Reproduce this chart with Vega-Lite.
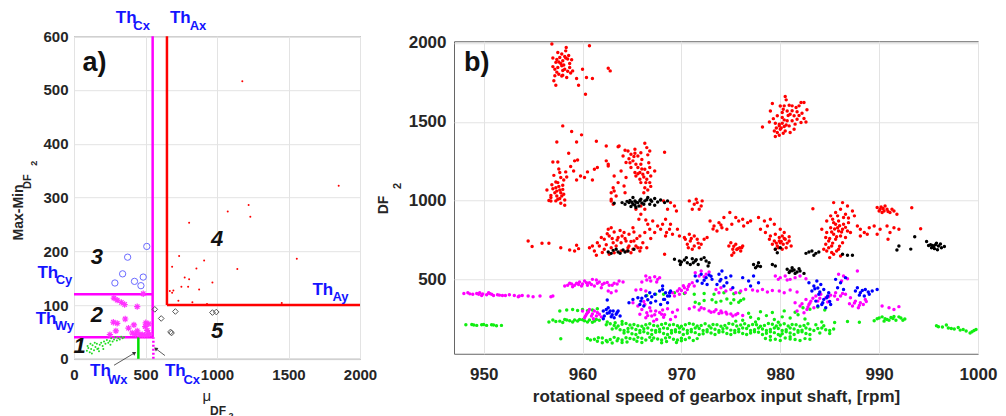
{
"$schema": "https://vega.github.io/schema/vega-lite/v6.json",
"bounds": "flush",
"center": true,
"spacing": 94,
"padding": {"left": 11, "top": 8, "right": 0, "bottom": 0},
"config": {
  "font": "Liberation Sans",
  "view": {"stroke": "#666666", "strokeWidth": 1},
  "axis": {"grid": true, "gridColor": "#e3e3e3", "gridWidth": 1, "domain": false, "ticks": false, "format": "d", "labelFont": "Liberation Sans", "labelFontWeight": "bold", "labelColor": "#262626", "labelFlush": false, "labelOverlap": false, "titleFont": "Liberation Sans", "titleFontWeight": "bold", "titleColor": "#262626"}
},
"datasets": {
  "aG": [{"x":90,"y":15},{"x":100,"y":20},{"x":110,"y":12},{"x":120,"y":18},{"x":130,"y":25},{"x":140,"y":16},{"x":150,"y":22},{"x":160,"y":28},{"x":170,"y":19},{"x":180,"y":26},{"x":190,"y":30},{"x":200,"y":24},{"x":210,"y":32},{"x":220,"y":28},{"x":230,"y":35},{"x":240,"y":30},{"x":250,"y":33},{"x":260,"y":38},{"x":270,"y":32},{"x":280,"y":36},{"x":290,"y":40},{"x":300,"y":34},{"x":310,"y":38},{"x":320,"y":36},{"x":330,"y":41},{"x":340,"y":38},{"x":350,"y":40},{"x":115,"y":28},{"x":145,"y":30},{"x":175,"y":14},{"x":205,"y":18},{"x":255,"y":26},{"x":125,"y":10},{"x":95,"y":24},{"x":163,"y":18}],
  "aM": [{"x":279,"y":113},{"x":302,"y":109},{"x":331,"y":105},{"x":354,"y":101},{"x":442,"y":97},{"x":484,"y":121},{"x":275,"y":68},{"x":302,"y":66},{"x":358,"y":74},{"x":293,"y":52},{"x":419,"y":63},{"x":381,"y":57},{"x":502,"y":67},{"x":523,"y":65},{"x":498,"y":60},{"x":512,"y":53},{"x":407,"y":48},{"x":430,"y":46},{"x":460,"y":45},{"x":477,"y":45},{"x":493,"y":44},{"x":516,"y":45},{"x":251,"y":45},{"x":442,"y":52},{"x":528,"y":46}],
  "aB": [{"x":509,"y":209},{"x":375,"y":189},{"x":340,"y":158},{"x":286,"y":141},{"x":423,"y":144},{"x":484,"y":152},{"x":468,"y":136}],
  "aR": [{"x":1177,"y":516},{"x":1851,"y":322},{"x":1221,"y":286},{"x":1233,"y":264},{"x":1075,"y":274},{"x":805,"y":253},{"x":735,"y":191},{"x":910,"y":183},{"x":1558,"y":186},{"x":686,"y":171},{"x":856,"y":168},{"x":1142,"y":167},{"x":774,"y":151},{"x":805,"y":148},{"x":968,"y":142},{"x":751,"y":134},{"x":798,"y":134},{"x":875,"y":129},{"x":670,"y":126},{"x":695,"y":127},{"x":686,"y":123},{"x":730,"y":108},{"x":828,"y":105},{"x":930,"y":102},{"x":1453,"y":104}],
  "aK": [{"x":565,"y":92},{"x":610,"y":75},{"x":709,"y":88},{"x":968,"y":86},{"x":995,"y":87},{"x":675,"y":50},{"x":682,"y":48}],
  "bR": [{"x":956.9,"y":1993},{"x":958.35,"y":1972},{"x":960.7,"y":1983},{"x":957.7,"y":1908},{"x":958.0,"y":1887},{"x":957.3,"y":1877},{"x":958.5,"y":1898},{"x":958.9,"y":1894},{"x":957.9,"y":1855},{"x":957.5,"y":1845},{"x":957.2,"y":1834},{"x":958.2,"y":1834},{"x":958.7,"y":1845},{"x":959.0,"y":1823},{"x":957.6,"y":1802},{"x":958.0,"y":1796},{"x":958.4,"y":1781},{"x":957.2,"y":1792},{"x":957.1,"y":1760},{"x":957.3,"y":1732},{"x":959.4,"y":1775},{"x":959.6,"y":1732},{"x":960.0,"y":1834},{"x":960.4,"y":1781},{"x":961.0,"y":1775},{"x":960.3,"y":1675},{"x":962.6,"y":1839},{"x":962.8,"y":1823},{"x":957.8,"y":1870},{"x":958.1,"y":1860},{"x":958.6,"y":1920},{"x":957.9,"y":1930},{"x":958.3,"y":1905},{"x":957.4,"y":1815},{"x":958.8,"y":1810},{"x":957.0,"y":1850},
  {"x":957.6,"y":1880},{"x":958.2,"y":1915},{"x":957.4,"y":1895},{"x":958.7,"y":1870},{"x":958.0,"y":1825},{"x":957.9,"y":1790},{"x":958.5,"y":1820},{"x":957.0,"y":1905},{"x":958.3,"y":1950},{"x":957.5,"y":1940},
  {"x":958.0,"y":1474},{"x":957.4,"y":1372},{"x":958.9,"y":1438},{"x":959.9,"y":1417},{"x":959.4,"y":1372},{"x":961.4,"y":1376},{"x":962.4,"y":1346},{"x":963.6,"y":1342},{"x":957.0,"y":1245},{"x":957.5,"y":1245},{"x":958.6,"y":1300},{"x":959.2,"y":1252},{"x":959.5,"y":1258},{"x":958.8,"y":1216},{"x":958.3,"y":1182},{"x":959.1,"y":1188},{"x":959.8,"y":1156},{"x":959.4,"y":1131},{"x":960.5,"y":1182},{"x":960.2,"y":1146},{"x":961.2,"y":1199},{"x":961.0,"y":1131},{"x":961.5,"y":1210},{"x":957.7,"y":1178},{"x":957.8,"y":1146},{"x":957.5,"y":1114},{"x":957.3,"y":1082},{"x":958.0,"y":1097},{"x":957.7,"y":1067},{"x":957.2,"y":1050},{"x":957.9,"y":1029},{"x":957.5,"y":1008},{"x":956.8,"y":997},{"x":958.2,"y":1004},{"x":956.4,"y":1067},{"x":956.8,"y":1033},{"x":957.3,"y":1118},{"x":957.8,"y":1050},{"x":958.0,"y":1071},{"x":957.4,"y":1029},{"x":962.4,"y":1252},{"x":962.6,"y":1220},{"x":956.8,"y":1019},{"x":957.3,"y":998},{"x":957.8,"y":983},{"x":957.7,"y":1013},{"x":958.2,"y":970},
  {"x":957.1,"y":1160},{"x":957.6,"y":1200},{"x":958.1,"y":1130},{"x":956.9,"y":1100},{"x":957.4,"y":1060},{"x":958.1,"y":1040},{"x":956.6,"y":1000},{"x":957.0,"y":1075},{"x":957.6,"y":1090},{"x":958.4,"y":1150},
  {"x":963.7,"y":1346},{"x":964.6,"y":1315},{"x":965.3,"y":1325},{"x":966.3,"y":1364},{"x":966.5,"y":1336},{"x":966.8,"y":1315},{"x":964.1,"y":1283},{"x":964.7,"y":1266},{"x":965.1,"y":1252},{"x":964.4,"y":1241},{"x":965.4,"y":1231},{"x":964.9,"y":1210},{"x":965.6,"y":1210},{"x":965.9,"y":1231},{"x":966.3,"y":1199},{"x":966.6,"y":1178},{"x":966.1,"y":1167},{"x":966.9,"y":1156},{"x":966.5,"y":1135},{"x":966.8,"y":1114},{"x":965.9,"y":1114},{"x":966.3,"y":1082},{"x":966.6,"y":1067},{"x":965.8,"y":1135},{"x":963.9,"y":1188},{"x":963.2,"y":1156},{"x":963.6,"y":1114},{"x":963.1,"y":1082},{"x":964.2,"y":1093},{"x":962.9,"y":1050},{"x":963.4,"y":1029},{"x":964.3,"y":1050},{"x":962.6,"y":1231},{"x":964.4,"y":1146},{"x":965.3,"y":1178},{"x":967.3,"y":1188},{"x":968.3,"y":1306},{"x":962.9,"y":997},{"x":963.2,"y":1061},{"x":965.6,"y":1283},{"x":965.9,"y":1304},{"x":964.9,"y":1294},{"x":965.4,"y":1156},{"x":965.8,"y":1178},{"x":966.4,"y":1114},{"x":966.8,"y":1210},{"x":962.9,"y":1008},{"x":963.1,"y":977},
  {"x":964.8,"y":1240},{"x":965.2,"y":1280},{"x":966.0,"y":1260},{"x":966.7,"y":1240},{"x":966.2,"y":1150},{"x":966.0,"y":1200},{"x":965.6,"y":1170},{"x":966.9,"y":1090},{"x":966.2,"y":1050},{"x":965.3,"y":1300},{"x":964.3,"y":1320},{"x":966.6,"y":1290},
  {"x":980.5,"y":1660},{"x":980.6,"y":1639},{"x":979.2,"y":1616},{"x":980.4,"y":1601},{"x":980.9,"y":1605},{"x":981.2,"y":1601},{"x":981.9,"y":1601},{"x":982.1,"y":1622},{"x":982.4,"y":1622},{"x":979.0,"y":1569},{"x":979.7,"y":1538},{"x":980.2,"y":1559},{"x":980.7,"y":1569},{"x":981.0,"y":1548},{"x":981.4,"y":1538},{"x":981.7,"y":1563},{"x":982.2,"y":1554},{"x":982.7,"y":1576},{"x":982.4,"y":1521},{"x":982.1,"y":1495},{"x":981.5,"y":1485},{"x":980.7,"y":1506},{"x":980.2,"y":1491},{"x":979.5,"y":1491},{"x":978.9,"y":1499},{"x":978.2,"y":1467},{"x":979.9,"y":1474},{"x":980.4,"y":1470},{"x":980.0,"y":1453},{"x":980.5,"y":1442},{"x":979.7,"y":1432},{"x":979.5,"y":1406},{"x":981.0,"y":1432},{"x":981.4,"y":1453},{"x":980.9,"y":1474},{"x":980.3,"y":1427},{"x":979.9,"y":1415},{"x":979.4,"y":1442},{"x":981.2,"y":1506},{"x":981.7,"y":1516},{"x":982.6,"y":1499},{"x":980.2,"y":1527},{"x":980.4,"y":1512},{"x":979.9,"y":1484},
  {"x":980.3,"y":1580},{"x":980.8,"y":1540},{"x":981.2,"y":1570},{"x":980.6,"y":1480},{"x":980.1,"y":1460},{"x":979.6,"y":1460},{"x":981.6,"y":1590},{"x":980.0,"y":1600},{"x":979.3,"y":1520},{"x":981.9,"y":1540},
  {"x":954.5,"y":744},{"x":954.9,"y":708},{"x":955.9,"y":729},{"x":956.6,"y":729},{"x":957.8,"y":701},{"x":958.7,"y":686},{"x":959.4,"y":716},{"x":959.6,"y":695},{"x":959.2,"y":680},{"x":960.7,"y":701},{"x":961.2,"y":680},{"x":961.4,"y":653},{"x":961.7,"y":712},{"x":962.2,"y":754},{"x":962.6,"y":818},{"x":962.9,"y":828},{"x":962.7,"y":775},{"x":963.2,"y":801},{"x":963.6,"y":765},{"x":963.9,"y":733},{"x":963.4,"y":712},{"x":964.2,"y":797},{"x":964.4,"y":744},{"x":964.7,"y":712},{"x":965.1,"y":691},{"x":965.4,"y":712},{"x":965.8,"y":680},{"x":966.1,"y":733},{"x":965.8,"y":775},{"x":965.1,"y":828},{"x":964.7,"y":786},{"x":963.9,"y":680},{"x":962.2,"y":691},{"x":961.9,"y":765},{"x":963.1,"y":733},{"x":965.9,"y":701},{"x":966.3,"y":797},{"x":966.6,"y":850},{"x":965.7,"y":881},{"x":965.9,"y":913},{"x":966.3,"y":945},{"x":965.4,"y":945},{"x":965.9,"y":966},{"x":966.4,"y":877},{"x":966.8,"y":818},{"x":967.3,"y":797},{"x":967.6,"y":839},{"x":967.1,"y":871},{"x":967.9,"y":818},{"x":968.5,"y":797},{"x":968.3,"y":659},{"x":964.6,"y":701},{"x":964.9,"y":669},{"x":963.2,"y":669},{"x":962.7,"y":659},{"x":961.5,"y":733},{"x":961.0,"y":712},{"x":965.2,"y":744},{"x":964.0,"y":775},
  {"x":962.4,"y":720},{"x":962.9,"y":700},{"x":963.5,"y":750},{"x":964.3,"y":760},{"x":964.9,"y":740},{"x":965.5,"y":760},{"x":964.5,"y":680},{"x":965.6,"y":700},{"x":963.8,"y":810},{"x":962.5,"y":790},{"x":966.5,"y":700},{"x":965.2,"y":800},{"x":966.9,"y":760},{"x":963.0,"y":760},{"x":962.0,"y":670},
  {"x":968.2,"y":998},{"x":968.9,"y":987},{"x":969.3,"y":966},{"x":968.6,"y":945},{"x":969.5,"y":934},{"x":968.4,"y":881},{"x":968.1,"y":850},{"x":968.8,"y":818},{"x":969.6,"y":818},{"x":968.9,"y":850},{"x":969.8,"y":775},{"x":969.1,"y":786},{"x":968.4,"y":775},{"x":970.8,"y":998},{"x":971.3,"y":977},{"x":971.6,"y":987},{"x":972.0,"y":966},{"x":971.1,"y":945},{"x":971.8,"y":945},{"x":971.5,"y":1008},{"x":972.1,"y":998},
  {"x":970.3,"y":765},{"x":970.8,"y":786},{"x":971.3,"y":775},{"x":970.9,"y":744},{"x":971.6,"y":754},{"x":970.6,"y":723},{"x":971.3,"y":712},{"x":972.0,"y":723},{"x":972.3,"y":754},{"x":970.4,"y":754},{"x":971.1,"y":691},{"x":971.8,"y":701},{"x":972.6,"y":765},{"x":972.9,"y":871},{"x":973.3,"y":839},{"x":973.8,"y":860},{"x":974.1,"y":828},{"x":973.6,"y":807},{"x":974.6,"y":818},{"x":974.9,"y":924},{"x":975.5,"y":892},{"x":975.8,"y":871},{"x":976.2,"y":881},{"x":976.7,"y":860},{"x":977.0,"y":871},{"x":975.1,"y":850},{"x":976.3,"y":839},{"x":974.3,"y":892},{"x":974.8,"y":712},{"x":975.2,"y":691},{"x":975.5,"y":723},{"x":975.9,"y":701},{"x":976.0,"y":680},{"x":975.3,"y":669},{"x":975.7,"y":695},{"x":975.0,"y":733},{"x":976.2,"y":712},{"x":975.1,"y":653},
  {"x":971.0,"y":760},{"x":971.7,"y":730},{"x":970.7,"y":700},{"x":975.6,"y":690},{"x":975.3,"y":710},{"x":976.1,"y":700},{"x":973.2,"y":820},{"x":974.0,"y":845},
  {"x":977.8,"y":892},{"x":978.4,"y":871},{"x":978.7,"y":839},{"x":978.0,"y":818},{"x":979.0,"y":881},{"x":978.5,"y":797},{"x":979.4,"y":850},{"x":979.0,"y":775},{"x":979.5,"y":786},{"x":979.9,"y":765},{"x":980.2,"y":775},{"x":980.5,"y":754},{"x":980.9,"y":744},{"x":979.4,"y":744},{"x":980.0,"y":733},{"x":979.7,"y":712},{"x":980.3,"y":723},{"x":980.6,"y":701},{"x":980.2,"y":691},{"x":979.5,"y":691},{"x":979.2,"y":723},{"x":981.1,"y":712},{"x":979.9,"y":744},{"x":980.4,"y":797},{"x":980.0,"y":818},{"x":978.9,"y":754},
  {"x":980.1,"y":740},{"x":980.7,"y":730},{"x":979.8,"y":700},{"x":980.4,"y":760},{"x":979.6,"y":730},{"x":980.9,"y":770},
  {"x":985.4,"y":987},{"x":986.3,"y":987},{"x":986.8,"y":966},{"x":986.1,"y":945},{"x":985.6,"y":924},{"x":986.6,"y":913},{"x":987.3,"y":934},{"x":985.1,"y":903},{"x":984.7,"y":871},{"x":985.4,"y":860},{"x":985.9,"y":871},{"x":986.4,"y":850},{"x":986.9,"y":860},{"x":985.1,"y":828},{"x":985.8,"y":828},{"x":986.3,"y":818},{"x":986.8,"y":807},{"x":984.7,"y":797},{"x":985.4,"y":786},{"x":986.1,"y":775},{"x":985.6,"y":754},{"x":984.9,"y":744},{"x":986.3,"y":733},{"x":985.2,"y":712},{"x":985.9,"y":691},{"x":984.7,"y":680},{"x":985.4,"y":659},{"x":986.1,"y":648},{"x":985.0,"y":638},{"x":984.4,"y":691},{"x":984.6,"y":765},{"x":986.6,"y":765},{"x":987.1,"y":797},{"x":987.5,"y":903},{"x":987.8,"y":839},{"x":988.1,"y":818},{"x":988.5,"y":797},{"x":988.8,"y":786},{"x":988.1,"y":775},{"x":985.8,"y":903},{"x":985.3,"y":881},{"x":985.9,"y":807},{"x":986.4,"y":892},{"x":984.2,"y":818},{"x":984.6,"y":723},{"x":983.3,"y":948},
  {"x":985.5,"y":820},{"x":985.2,"y":800},{"x":986.0,"y":840},{"x":985.7,"y":770},{"x":985.0,"y":760},{"x":986.2,"y":800},{"x":985.6,"y":850},{"x":986.6,"y":830},{"x":985.3,"y":730},{"x":986.0,"y":710},{"x":985.7,"y":680},{"x":985.2,"y":670},{"x":984.9,"y":700},{"x":986.9,"y":890},
  {"x":989.8,"y":956},{"x":990.1,"y":945},{"x":990.5,"y":934},{"x":990.8,"y":945},{"x":991.1,"y":924},{"x":991.5,"y":934},{"x":991.8,"y":913},{"x":990.3,"y":924},{"x":990.0,"y":934},{"x":990.6,"y":966},{"x":989.5,"y":839},{"x":990.1,"y":818},{"x":990.8,"y":839},{"x":991.1,"y":797},{"x":991.5,"y":828},{"x":992.0,"y":818},{"x":990.9,"y":754},{"x":989.8,"y":786},{"x":989.0,"y":828},{"x":993.3,"y":955},{"x":994.2,"y":821},
  {"x":990.4,"y":950},{"x":990.9,"y":930},{"x":991.3,"y":945},{"x":990.2,"y":960}],
  "bK": [{"x":964.7,"y":987},{"x":965.1,"y":977},{"x":965.3,"y":998},{"x":964.9,"y":962},{"x":965.6,"y":987},{"x":965.9,"y":1008},{"x":966.3,"y":998},{"x":966.6,"y":1019},{"x":966.9,"y":1004},{"x":967.3,"y":1013},{"x":967.6,"y":991},{"x":967.9,"y":1004},{"x":968.3,"y":987},{"x":968.6,"y":998},{"x":965.7,"y":966},{"x":965.4,"y":956},{"x":964.3,"y":977},{"x":966.8,"y":977},{"x":964.0,"y":987},{"x":963.2,"y":983},{"x":966.2,"y":977},{"x":965.1,"y":1019},{"x":967.3,"y":970},{"x":965.0,"y":990},{"x":965.3,"y":970},{"x":964.8,"y":1000},
  {"x":965.4,"y":990},{"x":966.0,"y":985},{"x":966.5,"y":1005},{"x":967.0,"y":995},{"x":964.5,"y":995},{"x":965.8,"y":1000},
  {"x":962.6,"y":674},{"x":963.1,"y":684},{"x":963.6,"y":674},{"x":964.1,"y":686},{"x":964.6,"y":680},{"x":965.2,"y":691},{"x":962.9,"y":665},{"x":963.8,"y":665},{"x":964.3,"y":674},{"x":963.4,"y":691},
  {"x":969.3,"y":627},{"x":969.8,"y":617},{"x":970.3,"y":623},{"x":970.6,"y":606},{"x":971.1,"y":631},{"x":971.4,"y":617},{"x":972.0,"y":627},{"x":972.5,"y":617},{"x":972.8,"y":606},{"x":969.9,"y":595},{"x":970.9,"y":595},{"x":971.7,"y":595},{"x":972.3,"y":638},{"x":970.5,"y":638},{"x":971.2,"y":606},{"x":972.7,"y":585},{"x":971.5,"y":625},{"x":970.0,"y":610},
  {"x":977.3,"y":595},{"x":977.7,"y":585},{"x":977.8,"y":606},{"x":977.5,"y":574},{"x":978.0,"y":581},{"x":979.2,"y":595},{"x":979.5,"y":585},
  {"x":980.7,"y":564},{"x":981.0,"y":553},{"x":981.4,"y":560},{"x":981.7,"y":547},{"x":982.0,"y":553},{"x":982.4,"y":538},{"x":981.2,"y":574},{"x":981.9,"y":568},{"x":981.5,"y":538},{"x":980.9,"y":543},{"x":981.2,"y":555},
  {"x":979.5,"y":691},{"x":980.0,"y":701},{"x":979.7,"y":669},
  {"x":982.6,"y":665},{"x":982.9,"y":674},{"x":983.2,"y":680},{"x":983.6,"y":665},{"x":983.9,"y":674},{"x":983.4,"y":653},
  {"x":986.3,"y":659},{"x":986.8,"y":653},{"x":987.3,"y":653},
  {"x":995.2,"y":720},{"x":995.5,"y":705},{"x":995.8,"y":730},{"x":996.0,"y":712},{"x":995.6,"y":695},{"x":996.3,"y":700},{"x":994.8,"y":740},{"x":993.6,"y":770},{"x":993.2,"y":692},{"x":996.6,"y":708},{"x":995.0,"y":715},{"x":995.9,"y":688},{"x":996.2,"y":725},{"x":992.0,"y":712},{"x":991.8,"y":686},{"x":995.4,"y":715},{"x":995.7,"y":720},{"x":995.3,"y":700}],
  "bM": [{"x":948.0,"y":411},{"x":948.4,"y":415},{"x":948.9,"y":405},{"x":949.3,"y":411},{"x":949.6,"y":415},{"x":949.9,"y":407},{"x":950.3,"y":403},{"x":950.6,"y":411},{"x":951.0,"y":398},{"x":951.4,"y":403},{"x":951.9,"y":398},{"x":952.6,"y":403},{"x":953.1,"y":398},{"x":953.5,"y":390},{"x":953.9,"y":398},{"x":954.5,"y":394},{"x":955.0,"y":390},{"x":955.7,"y":394},{"x":956.8,"y":390},{"x":957.0,"y":394},{"x":949.8,"y":398},{"x":950.5,"y":415},
  {"x":948.6,"y":408},{"x":949.5,"y":405},{"x":950.8,"y":405},{"x":951.6,"y":400},{"x":952.2,"y":398},{"x":953.6,"y":395},
  {"x":958.2,"y":458},{"x":958.7,"y":475},{"x":959.2,"y":462},{"x":959.7,"y":483},{"x":960.2,"y":489},{"x":960.7,"y":479},{"x":961.0,"y":500},{"x":961.4,"y":496},{"x":961.7,"y":483},{"x":962.2,"y":475},{"x":962.7,"y":462},{"x":963.2,"y":475},{"x":963.7,"y":489},{"x":964.1,"y":483},{"x":959.0,"y":453},{"x":959.9,"y":458},{"x":960.5,"y":462},{"x":961.2,"y":458},{"x":961.9,"y":447},{"x":962.6,"y":426},{"x":962.9,"y":415},{"x":963.4,"y":426},{"x":958.5,"y":462},{"x":959.4,"y":475},{"x":960.9,"y":468},
  {"x":958.9,"y":470},{"x":959.6,"y":468},{"x":960.4,"y":478},{"x":961.5,"y":475},{"x":962.0,"y":468},{"x":962.5,"y":480},{"x":963.0,"y":462},{"x":963.5,"y":470},{"x":960.0,"y":470},
  {"x":966.4,"y":521},{"x":966.8,"y":511},{"x":967.3,"y":517},{"x":967.6,"y":500},{"x":966.9,"y":489},{"x":966.5,"y":496},{"x":966.0,"y":483},{"x":967.5,"y":483},{"x":967.8,"y":511},{"x":965.4,"y":432},{"x":965.9,"y":436},{"x":966.4,"y":426},
  {"x":960.0,"y":299},{"x":960.5,"y":288},{"x":960.9,"y":267},{"x":961.2,"y":299},{"x":960.2,"y":256},{"x":960.7,"y":309},{"x":961.4,"y":267},{"x":961.7,"y":278},{"x":960.4,"y":278},{"x":961.1,"y":250},
  {"x":960.6,"y":295},{"x":961.0,"y":280},{"x":960.3,"y":268},{"x":961.5,"y":290},{"x":961.9,"y":262},
  {"x":971.4,"y":542},{"x":972.0,"y":553},{"x":972.5,"y":532},{"x":972.8,"y":547},{"x":971.8,"y":521},{"x":972.3,"y":517},
  {"x":969.1,"y":415},{"x":969.6,"y":426},{"x":970.3,"y":447},{"x":970.8,"y":468},{"x":971.1,"y":479},{"x":969.8,"y":405},{"x":969.3,"y":394},{"x":970.6,"y":436},{"x":971.3,"y":458},{"x":970.4,"y":415},
  {"x":970.0,"y":430},{"x":970.7,"y":455},{"x":969.8,"y":440},{"x":970.2,"y":460},
  {"x":973.5,"y":436},{"x":974.0,"y":447},{"x":974.5,"y":426},{"x":975.0,"y":436},{"x":975.5,"y":415},{"x":976.0,"y":426},{"x":976.5,"y":436},{"x":973.8,"y":415},
  {"x":977.2,"y":432},{"x":977.7,"y":426},{"x":978.2,"y":436},{"x":978.7,"y":420},{"x":979.2,"y":430},{"x":979.9,"y":426},{"x":980.4,"y":415},{"x":981.0,"y":432},{"x":981.7,"y":420},
  {"x":979.5,"y":521},{"x":980.0,"y":511},{"x":980.5,"y":521},{"x":981.0,"y":500},{"x":981.5,"y":511},{"x":982.0,"y":521},{"x":982.6,"y":504},{"x":979.8,"y":500},{"x":980.7,"y":496},
  {"x":968.1,"y":305},{"x":968.6,"y":313},{"x":969.1,"y":292},{"x":969.6,"y":305},{"x":968.3,"y":276},{"x":968.9,"y":246},{"x":969.4,"y":263},
  {"x":970.8,"y":313},{"x":971.3,"y":324},{"x":971.8,"y":305},{"x":972.3,"y":313},{"x":973.0,"y":292},{"x":973.5,"y":307},{"x":974.0,"y":299},{"x":973.8,"y":284},
  {"x":972.8,"y":300},{"x":973.3,"y":295},{"x":974.5,"y":292},{"x":975.0,"y":280},{"x":975.5,"y":275},{"x":972.0,"y":320},
  {"x":974.1,"y":288},{"x":974.6,"y":280},{"x":975.2,"y":267},{"x":975.7,"y":284},{"x":976.2,"y":271},
  {"x":981.5,"y":352},{"x":982.0,"y":331},{"x":982.6,"y":373},{"x":982.9,"y":341},{"x":983.4,"y":320},{"x":981.7,"y":299},{"x":982.4,"y":288},{"x":983.1,"y":362},{"x":982.7,"y":309},
  {"x":983.0,"y":350},{"x":982.2,"y":345},{"x":983.3,"y":380},{"x":984.0,"y":380},{"x":984.9,"y":390},{"x":985.5,"y":395},{"x":986.3,"y":410},{"x":982.8,"y":325},
  {"x":983.6,"y":394},{"x":984.1,"y":405},{"x":984.6,"y":383},{"x":985.1,"y":400},{"x":985.6,"y":415},{"x":986.1,"y":394},{"x":986.6,"y":405},{"x":983.8,"y":362},{"x":984.8,"y":356},{"x":985.8,"y":373},
  {"x":985.9,"y":532},{"x":986.4,"y":521},{"x":986.2,"y":489},{"x":986.8,"y":504},
  {"x":987.1,"y":383},{"x":987.6,"y":362},{"x":988.1,"y":352},{"x":988.6,"y":373},{"x":987.3,"y":331},{"x":987.9,"y":320},{"x":988.4,"y":341},{"x":987.8,"y":553},
  {"x":987.5,"y":350},{"x":988.0,"y":335},{"x":988.7,"y":360},{"x":987.0,"y":345},
  {"x":990.3,"y":331},{"x":991.0,"y":320},{"x":991.5,"y":309},{"x":992.0,"y":327},
  {"x":965.1,"y":352},{"x":965.6,"y":331},{"x":966.0,"y":309},{"x":966.5,"y":288},{"x":967.0,"y":267},{"x":967.5,"y":246},{"x":966.2,"y":360},{"x":966.8,"y":320},{"x":967.4,"y":299},{"x":968.0,"y":278},{"x":965.8,"y":278},{"x":966.4,"y":256},{"x":967.2,"y":235},
  {"x":966.3,"y":340},{"x":966.9,"y":300},{"x":967.3,"y":275},{"x":966.6,"y":270},{"x":967.8,"y":290},{"x":968.2,"y":260}],
  "bB": [{"x":962.1,"y":299},{"x":962.4,"y":309},{"x":962.7,"y":288},{"x":963.1,"y":299},{"x":963.4,"y":278},{"x":962.2,"y":267},{"x":962.9,"y":263},{"x":963.6,"y":299},{"x":962.6,"y":320},{"x":963.2,"y":256},{"x":962.1,"y":250},{"x":963.8,"y":267},{"x":962.5,"y":369},
  {"x":962.5,"y":285},{"x":963.0,"y":275},{"x":963.5,"y":290},{"x":962.8,"y":300},
  {"x":964.7,"y":352},{"x":965.1,"y":373},{"x":965.6,"y":383},{"x":965.9,"y":362},{"x":966.4,"y":394},{"x":966.8,"y":415},{"x":967.3,"y":405},{"x":967.8,"y":426},{"x":968.1,"y":458},{"x":968.6,"y":394},{"x":967.4,"y":362},{"x":966.2,"y":331},{"x":965.8,"y":341},{"x":966.9,"y":352},{"x":968.3,"y":373},{"x":968.8,"y":415},{"x":967.9,"y":341},
  {"x":966.0,"y":380},{"x":967.0,"y":390},{"x":966.6,"y":370},
  {"x":971.4,"y":521},{"x":972.0,"y":532},{"x":972.5,"y":511},{"x":971.6,"y":489},{"x":972.1,"y":475},{"x":972.8,"y":528},{"x":973.1,"y":500},{"x":972.6,"y":468},
  {"x":973.8,"y":532},{"x":974.1,"y":553},{"x":974.5,"y":511},{"x":973.9,"y":489},{"x":974.6,"y":479},{"x":975.0,"y":521},{"x":974.3,"y":458},{"x":975.2,"y":447},{"x":973.6,"y":468},
  {"x":973.0,"y":520},{"x":974.0,"y":500},{"x":972.3,"y":495},
  {"x":968.1,"y":436},{"x":968.4,"y":415},{"x":968.8,"y":394},{"x":968.2,"y":373},{"x":968.9,"y":426},{"x":968.6,"y":352},
  {"x":976.2,"y":511},{"x":976.8,"y":489},{"x":977.3,"y":521},{"x":977.8,"y":479},{"x":977.0,"y":458},
  {"x":982.9,"y":479},{"x":983.4,"y":458},{"x":983.7,"y":489},{"x":984.1,"y":468},{"x":984.4,"y":436},{"x":983.2,"y":426},{"x":983.9,"y":405},{"x":984.7,"y":383},{"x":984.3,"y":352},{"x":983.8,"y":331},{"x":984.6,"y":320},{"x":985.1,"y":341},{"x":984.9,"y":415},{"x":983.6,"y":362},{"x":984.4,"y":373},
  {"x":983.5,"y":440},{"x":984.0,"y":420},{"x":984.8,"y":395},{"x":984.2,"y":340},{"x":985.0,"y":360},{"x":983.8,"y":445},
  {"x":985.6,"y":500},{"x":986.1,"y":479},{"x":986.6,"y":511},{"x":985.8,"y":447},{"x":986.4,"y":436},
  {"x":987.6,"y":426},{"x":988.1,"y":415},{"x":988.6,"y":436},{"x":989.0,"y":405},{"x":988.5,"y":394},{"x":989.3,"y":426},{"x":987.8,"y":447},{"x":989.8,"y":436},
  {"x":988.3,"y":430},{"x":988.9,"y":420},{"x":988.0,"y":400}],
  "bG": [{"x":948.2,"y":212},{"x":948.8,"y":214},{"x":949.3,"y":208},{"x":949.8,"y":212},{"x":950.3,"y":208},{"x":950.8,"y":212},{"x":951.3,"y":206},{"x":951.8,"y":208},{"x":949.0,"y":210},{"x":950.0,"y":214},{"x":951.0,"y":210},
  {"x":956.6,"y":229},{"x":957.0,"y":242},{"x":957.7,"y":235},{"x":958.2,"y":246},{"x":958.7,"y":238},{"x":959.2,"y":242},{"x":959.7,"y":246},{"x":960.2,"y":238},{"x":960.7,"y":242},{"x":961.2,"y":235},{"x":961.7,"y":240},{"x":959.0,"y":229},{"x":960.5,"y":229},
  {"x":957.3,"y":232},{"x":958.0,"y":226},{"x":958.4,"y":242},{"x":959.5,"y":236},{"x":960.0,"y":244},{"x":961.0,"y":228},{"x":961.4,"y":246},
  {"x":957.7,"y":299},{"x":958.4,"y":305},{"x":959.0,"y":309},{"x":959.5,"y":303},{"x":960.0,"y":309},{"x":960.5,"y":301},{"x":961.0,"y":305},{"x":961.5,"y":314},{"x":957.8,"y":123},
  {"x":962.4,"y":212},{"x":963.2,"y":208},{"x":964.0,"y":215},{"x":964.8,"y":210},{"x":965.6,"y":206},{"x":966.4,"y":212},{"x":967.2,"y":208},{"x":968.0,"y":214},{"x":968.8,"y":210},{"x":969.6,"y":206},{"x":970.4,"y":212},{"x":971.2,"y":215},{"x":972.0,"y":208},{"x":972.8,"y":204},{"x":973.6,"y":212},{"x":974.4,"y":208},{"x":975.2,"y":215},{"x":976.0,"y":210},{"x":976.8,"y":206},{"x":977.6,"y":212},{"x":978.4,"y":208},{"x":979.2,"y":215},{"x":980.0,"y":210},{"x":980.8,"y":204},{"x":981.6,"y":212},{"x":982.4,"y":208},
  {"x":962.8,"y":218},{"x":963.6,"y":204},{"x":964.4,"y":220},{"x":965.2,"y":214},{"x":966.0,"y":202},{"x":966.8,"y":218},{"x":967.6,"y":204},{"x":968.4,"y":220},{"x":969.2,"y":214},{"x":970.0,"y":202},{"x":970.8,"y":220},{"x":971.6,"y":204},{"x":972.4,"y":218},{"x":973.2,"y":214},{"x":974.0,"y":202},{"x":974.8,"y":220},{"x":975.6,"y":204},{"x":976.4,"y":218},{"x":977.2,"y":214},{"x":978.0,"y":202},{"x":978.8,"y":220},{"x":979.6,"y":204},{"x":980.4,"y":218},{"x":981.2,"y":214},{"x":982.0,"y":202},{"x":982.8,"y":218},{"x":983.6,"y":212},{"x":984.4,"y":206},
  {"x":963.0,"y":185},{"x":963.8,"y":180},{"x":964.6,"y":188},{"x":965.4,"y":182},{"x":966.2,"y":186},{"x":967.0,"y":178},{"x":967.8,"y":184},{"x":968.6,"y":188},{"x":969.4,"y":180},{"x":970.2,"y":185},{"x":971.0,"y":182},{"x":971.8,"y":188},{"x":972.6,"y":180},{"x":973.4,"y":184},{"x":974.2,"y":186},{"x":975.0,"y":178},{"x":975.8,"y":184},{"x":976.6,"y":188},{"x":977.4,"y":180},{"x":978.2,"y":185},{"x":979.0,"y":182},{"x":979.8,"y":188},{"x":980.6,"y":180},{"x":981.4,"y":185},{"x":982.2,"y":178},{"x":983.0,"y":184},{"x":983.8,"y":188},{"x":984.6,"y":180},{"x":985.4,"y":185},
  {"x":963.4,"y":192},{"x":964.2,"y":176},{"x":965.0,"y":192},{"x":965.8,"y":176},{"x":966.6,"y":192},{"x":967.4,"y":176},{"x":968.2,"y":192},{"x":969.0,"y":176},{"x":969.8,"y":192},{"x":970.6,"y":176},{"x":971.4,"y":192},{"x":972.2,"y":176},{"x":973.0,"y":192},{"x":973.8,"y":176},{"x":974.6,"y":192},{"x":975.4,"y":176},{"x":976.2,"y":192},{"x":977.0,"y":176},{"x":977.8,"y":192},{"x":978.6,"y":176},{"x":979.4,"y":192},{"x":980.2,"y":176},{"x":981.0,"y":192},{"x":981.8,"y":176},{"x":982.6,"y":192},{"x":983.4,"y":176},{"x":984.2,"y":192},{"x":985.0,"y":176},
  {"x":964.2,"y":160},{"x":965.0,"y":155},{"x":965.8,"y":162},{"x":966.6,"y":158},{"x":967.4,"y":164},{"x":968.2,"y":156},{"x":969.0,"y":160},{"x":969.8,"y":165},{"x":970.6,"y":158},{"x":971.4,"y":162},{"x":972.2,"y":155},{"x":973.0,"y":160},{"x":973.8,"y":164},{"x":974.6,"y":157},{"x":975.4,"y":162},{"x":976.2,"y":156},{"x":977.0,"y":160},{"x":977.8,"y":165},{"x":978.6,"y":158},{"x":979.4,"y":162},{"x":980.2,"y":155},{"x":981.0,"y":160},{"x":981.8,"y":164},{"x":982.6,"y":157},{"x":984.0,"y":160},{"x":985.0,"y":156},
  {"x":964.6,"y":168},{"x":965.4,"y":150},{"x":966.2,"y":168},{"x":967.0,"y":150},{"x":967.8,"y":168},{"x":968.6,"y":150},{"x":969.4,"y":168},{"x":970.2,"y":150},{"x":971.0,"y":168},{"x":971.8,"y":150},{"x":972.6,"y":168},{"x":973.4,"y":150},{"x":974.2,"y":168},{"x":975.0,"y":150},{"x":975.8,"y":168},{"x":976.6,"y":150},{"x":977.4,"y":168},{"x":978.2,"y":150},{"x":979.0,"y":168},{"x":979.8,"y":150},{"x":980.6,"y":168},{"x":981.4,"y":150},{"x":982.2,"y":168},{"x":983.0,"y":150},
  {"x":960.5,"y":125},{"x":961.2,"y":120},{"x":962.0,"y":128},{"x":962.8,"y":118},{"x":963.6,"y":124},{"x":964.4,"y":130},{"x":965.2,"y":120},{"x":966.0,"y":126},{"x":966.8,"y":132},{"x":967.6,"y":122},{"x":968.4,"y":128},{"x":969.2,"y":120},{"x":970.0,"y":126},{"x":970.8,"y":130},{"x":971.6,"y":124},{"x":961.5,"y":108},{"x":962.5,"y":104},{"x":963.5,"y":110},{"x":964.5,"y":102},{"x":965.5,"y":108},{"x":967.0,"y":112},{"x":968.5,"y":106},{"x":970.0,"y":110},{"x":978.5,"y":125},{"x":979.5,"y":120},{"x":980.5,"y":128},{"x":981.5,"y":118},{"x":982.5,"y":124},{"x":979.0,"y":138},{"x":980.0,"y":142},{"x":981.0,"y":136},
  {"x":960.8,"y":115},{"x":961.6,"y":130},{"x":962.4,"y":112},{"x":963.2,"y":132},{"x":964.0,"y":115},{"x":964.8,"y":125},{"x":965.6,"y":132},{"x":966.4,"y":115},{"x":967.2,"y":128},{"x":968.0,"y":115},{"x":968.8,"y":132},{"x":969.6,"y":115},{"x":970.4,"y":118},{"x":971.2,"y":112},{"x":962.0,"y":98},{"x":963.0,"y":96},{"x":964.0,"y":100},{"x":966.0,"y":100},{"x":968.0,"y":98},{"x":969.5,"y":100},{"x":979.0,"y":115},{"x":980.0,"y":112},{"x":981.0,"y":122},{"x":982.0,"y":112},{"x":983.0,"y":120},
  {"x":976.2,"y":240},{"x":977.0,"y":260},{"x":977.8,"y":250},{"x":978.6,"y":270},{"x":979.4,"y":245},{"x":980.2,"y":262},{"x":981.0,"y":255},{"x":981.8,"y":275},{"x":982.5,"y":248},{"x":976.8,"y":285},{"x":978.0,"y":295},{"x":979.2,"y":290},{"x":980.4,"y":300},{"x":981.5,"y":292},{"x":975.5,"y":235},{"x":977.5,"y":230},{"x":979.8,"y":228},
  {"x":982.3,"y":320},{"x":983.0,"y":310},{"x":983.8,"y":325},{"x":984.5,"y":305},
  {"x":968.2,"y":405},{"x":969.3,"y":415},{"x":970.3,"y":411},{"x":971.3,"y":405},{"x":972.3,"y":411},{"x":973.3,"y":405},{"x":974.3,"y":415},{"x":975.3,"y":409},{"x":975.9,"y":415},{"x":966.5,"y":398},{"x":967.4,"y":405},
  {"x":971.4,"y":355},{"x":972.3,"y":366},{"x":973.1,"y":370},{"x":974.0,"y":362},{"x":974.6,"y":376},{"x":975.3,"y":370},{"x":976.0,"y":366},{"x":976.3,"y":376},{"x":971.8,"y":345},{"x":973.5,"y":355},{"x":975.0,"y":349},{"x":975.8,"y":355},
  {"x":989.8,"y":250},{"x":990.3,"y":262},{"x":990.8,"y":245},{"x":991.2,"y":258},{"x":991.7,"y":240},{"x":992.2,"y":255},{"x":992.6,"y":248},{"x":990.5,"y":235},{"x":991.5,"y":265},{"x":989.5,"y":238},
  {"x":990.0,"y":255},{"x":990.6,"y":250},{"x":991.0,"y":240},{"x":991.4,"y":252},{"x":992.0,"y":262},{"x":992.4,"y":240},
  {"x":995.8,"y":205},{"x":996.4,"y":198},{"x":997.0,"y":192},{"x":997.6,"y":185},{"x":998.2,"y":178},{"x":998.8,"y":172},{"x":999.4,"y":168},{"x":996.8,"y":210},{"x":998.0,"y":195},{"x":999.2,"y":160},{"x":999.8,"y":182},
  {"x":996.0,"y":200},{"x":997.3,"y":188},{"x":998.5,"y":182},{"x":999.6,"y":175},
  {"x":962.5,"y":230},{"x":963.3,"y":225},{"x":964.0,"y":232},{"x":984.2,"y":230},{"x":985.5,"y":226},{"x":986.8,"y":232},{"x":988.0,"y":228}]
},
"hconcat": [
{
  "width": 286, "height": 322.6,
  "encoding": {
    "x": {"field": "x", "type": "quantitative", "scale": {"domain": [0, 2000], "nice": false, "zero": false}, "axis": {"values": [0, 500, 1000, 1500, 2000], "format": "d", "title": null, "labelFontSize": 15, "labelPadding": 9}},
    "y": {"field": "y", "type": "quantitative", "scale": {"domain": [0, 600], "nice": false, "zero": false}, "axis": {"values": [0, 100, 200, 300, 400, 500, 600], "format": "d", "title": null, "labelFontSize": 15, "labelPadding": 6}}
  },
  "layer": [
    {"data": {"values": [{"x": 550, "y": 40, "x2": 550, "y2": 600}, {"x": 0, "y": 120, "x2": 550, "y2": 120}, {"x": 0, "y": 40, "x2": 550, "y2": 40}]}, "mark": {"type": "rule", "color": "#ff00ff", "strokeWidth": 2.5}, "encoding": {"x2": {"field": "x2"}, "y2": {"field": "y2"}}},
    {"data": {"values": [{"x": 555, "y": 0, "x2": 555, "y2": 40}]}, "mark": {"type": "rule", "color": "#ff00ff", "strokeWidth": 2.5, "strokeDash": [2, 2]}, "encoding": {"x2": {"field": "x2"}, "y2": {"field": "y2"}}},
    {"data": {"values": [{"x": 650, "y": 100, "x2": 650, "y2": 600}, {"x": 650, "y": 100, "x2": 2000, "y2": 100}]}, "mark": {"type": "rule", "color": "#ff0000", "strokeWidth": 2.5}, "encoding": {"x2": {"field": "x2"}, "y2": {"field": "y2"}}},
    {"data": {"values": [{"x": 450, "y": 0, "x2": 450, "y2": 40}]}, "mark": {"type": "rule", "color": "#00dd00", "strokeWidth": 2.5}, "encoding": {"x2": {"field": "x2"}, "y2": {"field": "y2"}}},
    {"data": {"values": [{"x": 280, "y": -12, "x2": 424, "y2": 11}, {"x": 636, "y": 6, "x2": 571, "y2": 19}]}, "mark": {"type": "rule", "color": "#333333", "strokeWidth": 0.8}, "encoding": {"x2": {"field": "x2"}, "y2": {"field": "y2"}}},
    {"data": {"values": [{"x": 424, "y": 11}]}, "mark": {"type": "point", "shape": "triangle-up", "filled": true, "color": "#333333", "size": 18, "angle": 57, "opacity": 1}},
    {"data": {"values": [{"x": 571, "y": 19}]}, "mark": {"type": "point", "shape": "triangle-up", "filled": true, "color": "#333333", "size": 18, "angle": 306, "opacity": 1}},
    {"data": {"name": "aG"}, "mark": {"type": "point", "filled": true, "shape": "circle", "color": "#22dd22", "size": 4, "opacity": 1}},
    {"data": {"name": "aM"}, "mark": {"type": "point", "filled": false, "shape": "M-1,0L1,0M0,-1L0,1M-0.7,-0.7L0.7,0.7M-0.7,0.7L0.7,-0.7", "color": "#ff33ff", "size": 40, "strokeWidth": 1.2, "opacity": 1}},
    {"data": {"name": "aB"}, "mark": {"type": "point", "filled": false, "shape": "circle", "color": "#6b6bff", "size": 40, "strokeWidth": 1, "opacity": 1}},
    {"data": {"name": "aR"}, "mark": {"type": "point", "filled": true, "shape": "circle", "color": "#ff0000", "size": 4, "opacity": 1}},
    {"data": {"name": "aK"}, "mark": {"type": "point", "filled": false, "shape": "diamond", "color": "#555555", "size": 32, "strokeWidth": 1, "opacity": 1}},
    {"data": {"values": [{"x": 292, "y": 624, "t": "Th"}, {"x": 671, "y": 624, "t": "Th"}, {"x": -256, "y": 150, "t": "Th"}, {"x": -268, "y": 64, "t": "Th"}, {"x": 1667, "y": 118, "t": "Th"}, {"x": 112, "y": -32, "t": "Th"}, {"x": 636, "y": -32, "t": "Th"}]}, "mark": {"type": "text", "align": "left", "baseline": "alphabetic", "fontSize": 17, "fontWeight": "bold", "color": "#1414ff"}, "encoding": {"text": {"field": "t"}}},
    {"data": {"values": [{"x": 415, "y": 612, "t": "Cx"}, {"x": 809, "y": 612, "t": "Ax"}, {"x": -128, "y": 139, "t": "Cy"}, {"x": -135, "y": 53, "t": "Wy"}, {"x": 1807, "y": 108, "t": "Ay"}, {"x": 238, "y": -46, "t": "Wx"}, {"x": 765, "y": -46, "t": "Cx"}]}, "mark": {"type": "text", "align": "left", "baseline": "alphabetic", "fontSize": 13, "fontWeight": "bold", "color": "#1414ff"}, "encoding": {"text": {"field": "t"}}},
    {"data": {"values": [{"x": 160, "y": 190, "t": "3"}, {"x": 160, "y": 82, "t": "2"}, {"x": 40, "y": 23, "t": "1"}, {"x": 1000, "y": 222, "t": "4"}, {"x": 1001, "y": 51, "t": "5"}]}, "mark": {"type": "text", "align": "center", "baseline": "middle", "fontSize": 22, "fontWeight": "bold", "fontStyle": "italic", "color": "#111111"}, "encoding": {"text": {"field": "t"}}},
    {"data": {"values": [{"x": 59, "y": 536, "t": "a)"}]}, "mark": {"type": "text", "align": "left", "baseline": "alphabetic", "fontSize": 27, "fontWeight": "bold", "color": "#111111"}, "encoding": {"text": {"field": "t"}}},
    {"data": {"values": [{"x": -354, "y": 220, "t": "Max-Min"}]}, "mark": {"type": "text", "align": "left", "baseline": "alphabetic", "angle": 270, "fontSize": 14, "fontWeight": "bold", "color": "#262626"}, "encoding": {"text": {"field": "t"}}},
    {"data": {"values": [{"x": -303, "y": 316, "t": "DF"}]}, "mark": {"type": "text", "align": "left", "baseline": "alphabetic", "angle": 270, "fontSize": 11, "fontWeight": "bold", "color": "#262626"}, "encoding": {"text": {"field": "t"}}},
    {"data": {"values": [{"x": -256, "y": 359, "t": "2"}]}, "mark": {"type": "text", "align": "left", "baseline": "alphabetic", "angle": 270, "fontSize": 9, "fontWeight": "bold", "color": "#262626"}, "encoding": {"text": {"field": "t"}}},
    {"data": {"values": [{"x": 898, "y": -79, "t": "μ"}]}, "mark": {"type": "text", "align": "left", "baseline": "alphabetic", "fontSize": 15, "color": "#262626"}, "encoding": {"text": {"field": "t"}}},
    {"data": {"values": [{"x": 951, "y": -104, "t": "DF"}]}, "mark": {"type": "text", "align": "left", "baseline": "alphabetic", "fontSize": 12, "fontWeight": "bold", "color": "#262626"}, "encoding": {"text": {"field": "t"}}},
    {"data": {"values": [{"x": 1080, "y": -112, "t": "2"}]}, "mark": {"type": "text", "align": "left", "baseline": "alphabetic", "fontSize": 9, "fontWeight": "bold", "color": "#262626"}, "encoding": {"text": {"field": "t"}}}
  ]
},
{
  "width": 524, "height": 312.5,
  "encoding": {
    "x": {"field": "x", "type": "quantitative", "scale": {"domain": [947, 1000], "nice": false, "zero": false}, "axis": {"values": [950, 960, 970, 980, 990, 1000], "format": "d", "title": "rotational speed of gearbox input shaft, [rpm]", "titleFontSize": 17, "titlePadding": 6, "labelFontSize": 17, "labelPadding": 13}},
    "y": {"field": "y", "type": "quantitative", "scale": {"domain": [28, 2011], "nice": false, "zero": false}, "axis": {"values": [500, 1000, 1500, 2000], "format": "d", "title": null, "labelFontSize": 17, "labelPadding": 8}}
  },
  "layer": [
    {"data": {"name": "bG"}, "mark": {"type": "point", "filled": true, "shape": "circle", "color": "#11ee11", "size": 12, "opacity": 1}},
    {"data": {"name": "bM"}, "mark": {"type": "point", "filled": true, "shape": "circle", "color": "#ff00ff", "size": 12, "opacity": 1}},
    {"data": {"name": "bB"}, "mark": {"type": "point", "filled": true, "shape": "circle", "color": "#0000ff", "size": 12, "opacity": 1}},
    {"data": {"name": "bR"}, "mark": {"type": "point", "filled": true, "shape": "circle", "color": "#ff0000", "size": 12, "opacity": 1}},
    {"data": {"name": "bK"}, "mark": {"type": "point", "filled": true, "shape": "circle", "color": "#000000", "size": 12, "opacity": 1}},
    {"data": {"values": [{"x": 948.0, "y": 1824, "t": "b)"}]}, "mark": {"type": "text", "align": "left", "baseline": "alphabetic", "fontSize": 27, "fontWeight": "bold", "color": "#111111"}, "encoding": {"text": {"field": "t"}}},
    {"data": {"values": [{"x": 940.33, "y": 913, "t": "DF"}]}, "mark": {"type": "text", "align": "left", "baseline": "alphabetic", "angle": 270, "fontSize": 14, "fontWeight": "bold", "color": "#262626"}, "encoding": {"text": {"field": "t"}}},
    {"data": {"values": [{"x": 941.6, "y": 1074, "t": "2"}]}, "mark": {"type": "text", "align": "left", "baseline": "alphabetic", "angle": 270, "fontSize": 11, "fontWeight": "bold", "color": "#262626"}, "encoding": {"text": {"field": "t"}}}
  ]
}
]
}
